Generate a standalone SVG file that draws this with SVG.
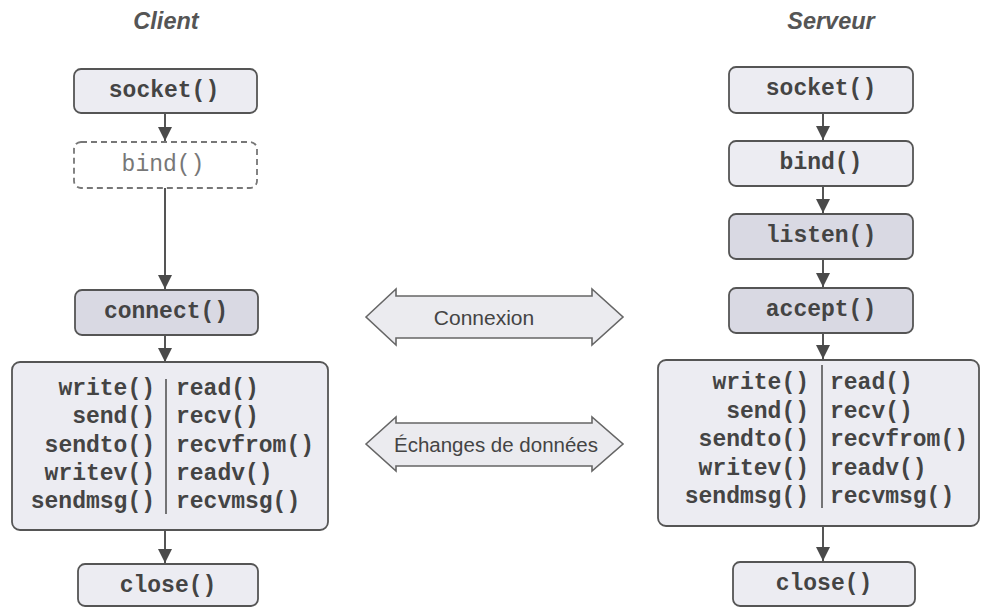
<svg xmlns="http://www.w3.org/2000/svg" width="982" height="608" viewBox="0 0 982 608">
<defs>
<marker id="ah" viewBox="0 0 14 14" refX="14" refY="7" markerWidth="14" markerHeight="14" markerUnits="userSpaceOnUse" orient="auto">
<path d="M0,0 L14,7 L0,14 z" fill="#4a4a4a"/>
</marker>
</defs>
<style>
.title{font-family:"Liberation Sans",Arial,sans-serif;font-weight:bold;font-style:italic;font-size:23.5px;fill:#555;text-anchor:middle}
.box{stroke:#555;stroke-width:1.8}
.light{fill:#ececf2}
.dark{fill:#d9d9e3}
.dashed{fill:#ffffff;stroke:#777;stroke-width:1.8;stroke-dasharray:6 4}
.code{font-family:"Liberation Mono","Courier New",monospace;font-weight:bold;font-size:23px;fill:#444}
.codel{font-family:"Liberation Mono","Courier New",monospace;font-size:23px;fill:#777}
.mid{text-anchor:middle}
.end{text-anchor:end}
.conn{stroke:#555;stroke-width:2;fill:none;marker-end:url(#ah)}
.div{stroke:#555;stroke-width:1.6}
.dbl{fill:#ebebef;stroke:#666;stroke-width:1.6}
.lbl{font-family:"Liberation Sans",Arial,sans-serif;font-size:20.5px;fill:#444;text-anchor:middle}
</style>

<text class="title" x="166" y="29">Client</text>
<text class="title" x="831" y="29">Serveur</text>

<g id="connectors">
<line class="conn" x1="165" y1="113" x2="165" y2="141"/>
<line class="conn" x1="165" y1="188" x2="165" y2="289"/>
<line class="conn" x1="165" y1="335" x2="165" y2="362"/>
<line class="conn" x1="165" y1="530" x2="165" y2="563"/>
<line class="conn" x1="823" y1="113" x2="823" y2="140"/>
<line class="conn" x1="823" y1="186" x2="823" y2="213"/>
<line class="conn" x1="823" y1="259" x2="823" y2="287"/>
<line class="conn" x1="823" y1="333" x2="823" y2="359"/>
<line class="conn" x1="823" y1="526" x2="823" y2="561"/>
</g>

<g id="c-socket">
<rect class="box light" x="74" y="69" width="183" height="44" rx="7"/>
<text class="code mid" x="164" y="97">socket()</text>
</g>
<g id="c-bind">
<rect class="dashed" x="74" y="142" width="183" height="46" rx="7"/>
<text class="codel mid" x="163" y="171">bind()</text>
</g>
<g id="c-connect">
<rect class="box dark" x="75" y="290" width="183" height="45" rx="7"/>
<text class="code mid" x="166" y="318">connect()</text>
</g>
<g id="c-io">
<rect class="box light" x="12" y="362" width="316" height="168" rx="8"/>
<line class="div" x1="166" y1="379" x2="166" y2="514"/>
<text class="code end" x="155" y="395">write()</text>
<text class="code end" x="155" y="423">send()</text>
<text class="code end" x="155" y="452">sendto()</text>
<text class="code end" x="155" y="480">writev()</text>
<text class="code end" x="155" y="508">sendmsg()</text>
<text class="code" x="176" y="395">read()</text>
<text class="code" x="176" y="423">recv()</text>
<text class="code" x="176" y="452">recvfrom()</text>
<text class="code" x="176" y="480">readv()</text>
<text class="code" x="176" y="508">recvmsg()</text>
</g>
<g id="c-close">
<rect class="box light" x="78" y="564" width="180" height="42" rx="7"/>
<text class="code mid" x="168" y="592">close()</text>
</g>

<g id="s-socket">
<rect class="box light" x="729" y="67" width="184" height="46" rx="7"/>
<text class="code mid" x="821" y="95">socket()</text>
</g>
<g id="s-bind">
<rect class="box light" x="729" y="141" width="184" height="45" rx="7"/>
<text class="code mid" x="821" y="169">bind()</text>
</g>
<g id="s-listen">
<rect class="box dark" x="729" y="214" width="184" height="45" rx="7"/>
<text class="code mid" x="821" y="242">listen()</text>
</g>
<g id="s-accept">
<rect class="box dark" x="729" y="288" width="184" height="45" rx="7"/>
<text class="code mid" x="821" y="316">accept()</text>
</g>
<g id="s-io">
<rect class="box light" x="658" y="360" width="321" height="166" rx="8"/>
<line class="div" x1="822" y1="365" x2="822" y2="508"/>
<text class="code end" x="809" y="389">write()</text>
<text class="code end" x="809" y="418">send()</text>
<text class="code end" x="809" y="446">sendto()</text>
<text class="code end" x="809" y="475">writev()</text>
<text class="code end" x="809" y="503">sendmsg()</text>
<text class="code" x="830" y="389">read()</text>
<text class="code" x="830" y="418">recv()</text>
<text class="code" x="830" y="446">recvfrom()</text>
<text class="code" x="830" y="475">readv()</text>
<text class="code" x="830" y="503">recvmsg()</text>
</g>
<g id="s-close">
<rect class="box light" x="733" y="562" width="182" height="44" rx="7"/>
<text class="code mid" x="824" y="590">close()</text>
</g>

<g id="a-connexion">
<polygon class="dbl" points="366,317 396,289 396,296 592,296 592,289 623,317 592,345 592,338 396,338 396,345"/>
<text class="lbl" x="484" y="325" style="font-size:21px">Connexion</text>
</g>
<g id="a-echanges">
<polygon class="dbl" points="366,444 396,417 396,423 592,423 592,417 623,444 592,471 592,466 396,466 396,471"/>
<text class="lbl" x="496" y="452">Échanges de données</text>
</g>
</svg>
